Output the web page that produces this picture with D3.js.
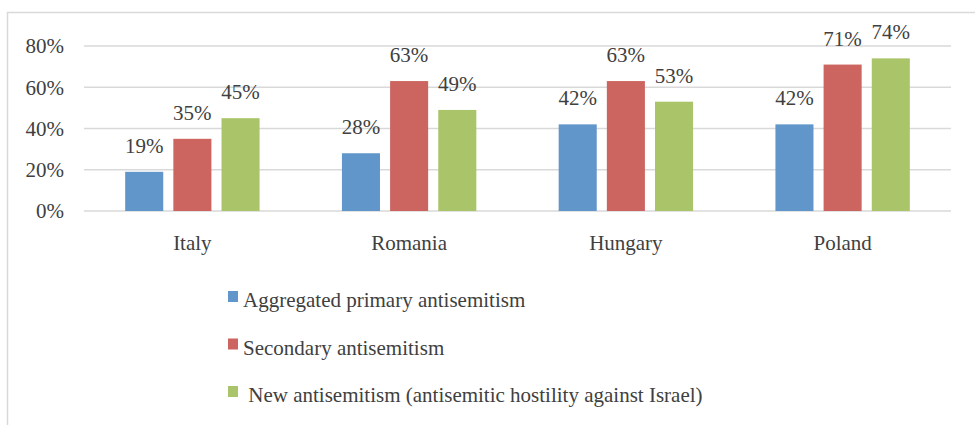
<!DOCTYPE html>
<html>
<head>
<meta charset="utf-8">
<script src="https://cdn.jsdelivr.net/npm/d3@7"></script>
<style>
  body { margin: 0; background: #fff; }
  svg text { fill: #404040; }
</style>
</head>
<body>
<svg id="chart" width="975" height="425"></svg>
<script>
// data
const countries = ['Italy', 'Romania', 'Hungary', 'Poland'];
const seriesNames = [
  'Aggregated primary antisemitism',
  'Secondary antisemitism',
  ' New antisemitism (antisemitic hostility against Israel)'
];
const primary = [19, 28, 42, 42];
const secondary = [35, 63, 63, 71];
const newAnti = [45, 49, 53, 74];
const yTicks = [0, 20, 40, 60, 80];

const colors = ['#6096c9', '#cc6460', '#aac46a'];
const series = [primary, secondary, newAnti];
const serif = "'Liberation Serif', 'Times New Roman', Times, 'DejaVu Serif', serif";

const svg = d3.select('#chart')
  .attr('font-family', serif)
  .style('font-family', serif);

// outer frame (cut off at right and bottom like the screenshot)
svg.append('rect')
  .attr('x', 7.5)
  .attr('y', 12.5)
  .attr('width', 1000)
  .attr('height', 500)
  .attr('fill', 'none')
  .attr('stroke', '#d9d9d9')
  .attr('stroke-width', 1.5);

const plotLeft = 84, plotRight = 951, plotTop = 46, plotBottom = 211;

const y = d3.scaleLinear().domain([0, 80]).range([plotBottom, plotTop]);

const x0 = d3.scaleBand()
  .domain(countries)
  .range([plotLeft, plotRight])
  .paddingInner(0.38)
  .paddingOuter(0.19);

const x1 = d3.scaleBand()
  .domain(d3.range(series.length))
  .range([0, x0.bandwidth()])
  .paddingInner(0.21);

// gridlines
svg.append('g')
  .selectAll('line')
  .data(yTicks)
  .join('line')
    .attr('x1', plotLeft)
    .attr('x2', plotRight)
    .attr('y1', d => y(d))
    .attr('y2', d => y(d))
    .attr('stroke', '#d9d9d9')
    .attr('stroke-width', 1.5);

// y tick labels
svg.append('g')
  .selectAll('text')
  .data(yTicks)
  .join('text')
    .attr('x', 64)
    .attr('y', d => y(d))
    .attr('dy', '0.35em')
    .attr('text-anchor', 'end')
    .style('font-size', '21px')
    .text(d => d + '%');

// bars + labels
const groups = svg.append('g')
  .selectAll('g')
  .data(countries)
  .join('g')
    .attr('transform', d => `translate(${x0(d)},0)`);

groups.selectAll('rect')
  .data((d, i) => series.map((s, k) => ({k, v: s[i]})))
  .join('rect')
    .attr('x', d => x1(d.k))
    .attr('y', d => y(d.v))
    .attr('width', x1.bandwidth())
    .attr('height', d => y(0) - y(d.v))
    .attr('fill', d => colors[d.k]);

groups.selectAll('text')
  .data((d, i) => series.map((s, k) => ({k, v: s[i]})))
  .join('text')
    .attr('x', d => x1(d.k) + x1.bandwidth() / 2)
    .attr('y', d => y(d.v) - 19)
    .attr('text-anchor', 'middle')
    .style('font-size', '21px')
    .text(d => d.v + '%');

// category labels
svg.append('g')
  .selectAll('text')
  .data(countries)
  .join('text')
    .attr('x', d => x0(d) + x0.bandwidth() / 2)
    .attr('y', 250)
    .attr('text-anchor', 'middle')
    .style('font-size', '21px')
    .text(d => d);

// legend
const legend = svg.append('g')
  .selectAll('g')
  .data(seriesNames)
  .join('g')
    .attr('transform', (d, i) => `translate(228,${291 + i * 47.5})`);

legend.append('rect')
  .attr('width', 10)
  .attr('height', 11)
  .attr('fill', (d, i) => colors[i]);

legend.append('text')
  .attr('x', 15)
  .attr('y', 16)
  .style('font-size', '21px')
  .style('white-space', 'pre')
  .text(d => d);
</script>
</body>
</html>
